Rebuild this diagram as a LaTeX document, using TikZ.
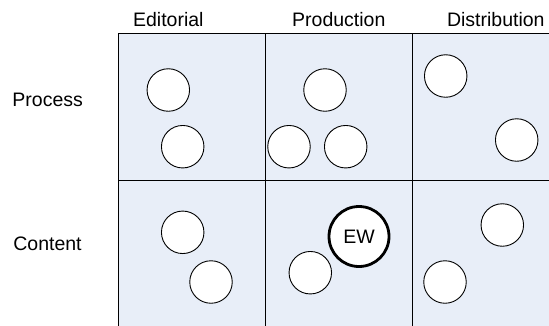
\documentclass[tikz,border=0pt]{standalone}
\usepackage{fontspec}
\setmainfont{Liberation Sans}
\definecolor{cellfill}{HTML}{E8EEF8}
\begin{document}
\begin{tikzpicture}[x=1pt,y=-1pt,
  lbl/.style={font=\fontsize{19.5}{22}\selectfont, inner sep=0pt, anchor=base},
  obj/.style={circle, draw=black, fill=white, line width=0.9pt, minimum size=42.5pt, inner sep=0pt},
  ewobj/.style={circle, draw=black, fill=white, line width=2.8pt, minimum size=60pt, inner sep=0pt, font=\fontsize{19.5}{22}\selectfont},
  grid/.style={draw=black, line width=0.9pt}]
\useasboundingbox (0,0) rectangle (549,325);
% cells
\fill[cellfill] (118.5,33.5) rectangle (560,330);
\draw[grid] (118.5,330) -- (118.5,33.5) -- (560,33.5);
\draw[grid] (118.5,180) -- (560,180);
\draw[grid] (265.5,33.5) -- (265.5,330);
\draw[grid] (412.5,33.5) -- (412.5,330);
% headers
\node[lbl] (hEd) at (168.3,26.7) {Editorial};
\node[lbl] (hPr) at (338.8,26.7) {Production};
\node[lbl] (hDi) at (495.8,26.7) {Distribution};
\node[lbl] (rPr) at (47.7,106.7) {Process};
\node[lbl] (rCo) at (47.5,250) {Content};
% process row
\node[obj] (pe1) at (168.3,90) {};
\node[obj] (pe2) at (182.7,146.7) {};
\node[obj] (pp1) at (325,90) {};
\node[obj] (pp2) at (289,146.7) {};
\node[obj] (pp3) at (345.7,146.7) {};
\node[obj] (pd1) at (445.7,76) {};
\node[obj] (pd2) at (516.7,140) {};
% content row
\node[obj] (ce1) at (182.7,232.3) {};
\node[obj] (ce2) at (211,282) {};
\node[obj] (cp1) at (310.3,272.7) {};
\node[ewobj] (ew) at (359,236.5) {EW};
\node[obj] (cd1) at (502.3,225) {};
\node[obj] (cd2) at (445,282) {};
\end{tikzpicture}
\end{document}
